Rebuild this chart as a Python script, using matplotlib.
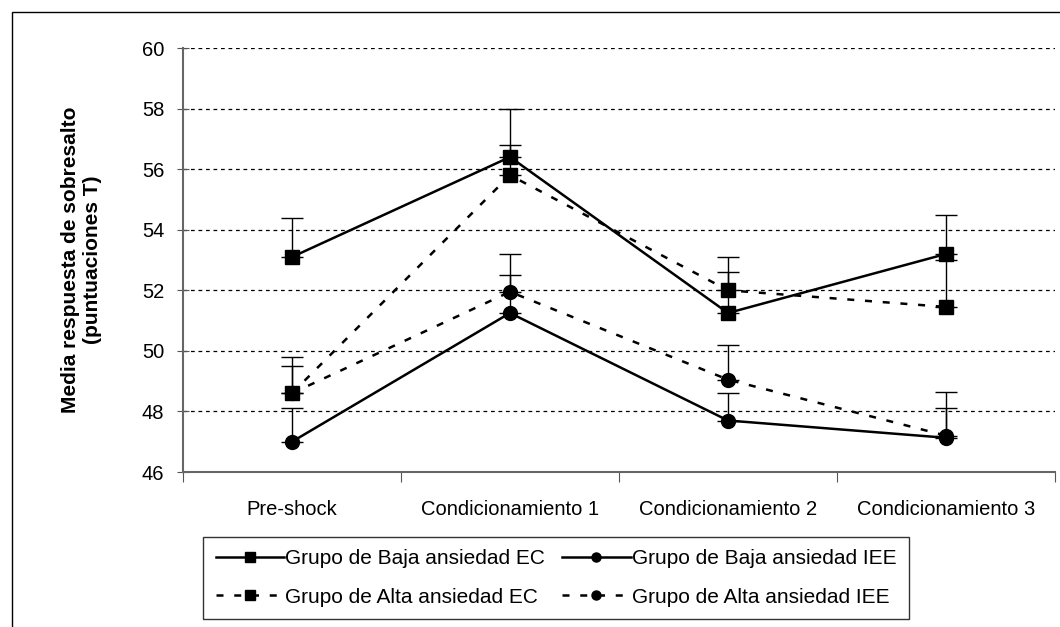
import matplotlib.pyplot as plt
from matplotlib.patches import Rectangle
from matplotlib.lines import Line2D

# ---------------------------------------------------------------
# Data
# ---------------------------------------------------------------
categories = ["Pre-shock", "Condicionamiento 1", "Condicionamiento 2", "Condicionamiento 3"]

baja_ec = [53.1, 56.4, 51.25, 53.2]
baja_ec_top = [54.4, 58.0, 52.6, 54.5]

baja_iee = [47.0, 51.25, 47.7, 47.13]
baja_iee_top = [48.1, 52.5, 48.6, 48.1]

alta_ec = [48.6, 55.8, 52.0, 51.45]
alta_ec_top = [49.8, 56.8, 53.1, 53.0]

alta_iee = [48.6, 51.95, 49.05, 47.2]
alta_iee_top = [49.5, 53.2, 50.2, 48.65]

dashes = (0, (2.8, 4.3))
series = [
    ("Grupo de Baja ansiedad EC", baja_ec, baja_ec_top, "-", "s"),
    ("Grupo de Alta ansiedad EC", alta_ec, alta_ec_top, dashes, "s"),
    ("Grupo de Baja ansiedad IEE", baja_iee, baja_iee_top, "-", "o"),
    ("Grupo de Alta ansiedad IEE", alta_iee, alta_iee_top, dashes, "o"),
]

plt.rcParams['font.family'] = ['Liberation Sans', 'DejaVu Sans']

fig = plt.figure(figsize=(10.6, 6.27), dpi=100)
ax = fig.add_axes([183 / 1060, 1 - 472 / 627, (1055 - 183) / 1060, (472 - 48) / 627])

x = list(range(len(categories)))
handles = []
for label, vals, tops, ls, mk in series:
    up = [t - v for t, v in zip(tops, vals)]
    ax.errorbar(x, vals, yerr=[[0] * len(vals), up], fmt="none", ecolor="black",
                elinewidth=1, capsize=8, capthick=1, zorder=3)
    ax.plot(x, vals, color="black", linestyle=ls, linewidth=1.8, zorder=4)
    ax.plot(x, vals, color="black", linestyle="none", marker=mk,
            markersize=10.5 if mk == "s" else 10, zorder=5)
    handles.append(Line2D([0], [0], color="black", linestyle=ls, linewidth=1.8,
                          marker=mk, markersize=7.5 if mk == "s" else 6.5, label=label))

# axes styling
ax.set_xlim(-0.5, 3.5)
ax.set_ylim(46, 60)
ax.set_yticks(range(46, 61, 2))
ax.yaxis.grid(True, linestyle=(0, (3, 3)), color="black", linewidth=0.9)
ax.set_axisbelow(True)
ax.set_xticks([-0.5, 0.5, 1.5, 2.5, 3.5])
ax.set_xticklabels([])
ax.set_xticks(x, minor=True)
ax.set_xticklabels(categories, minor=True, fontsize=14.5)
ax.tick_params(axis="x", which="minor", length=0, pad=20)
ax.tick_params(axis="x", which="major", length=7, color="#555555")
ax.tick_params(axis="y", direction="inout", length=9, color="#555555",
               labelsize=14.5, pad=9)
for side in ["top", "right"]:
    ax.spines[side].set_visible(False)
for side in ["left", "bottom"]:
    ax.spines[side].set_color("#666666")
    ax.spines[side].set_linewidth(1.5)

ax.set_ylabel("Media respuesta de sobresalto\n(puntuaciones T)", fontsize=15,
              fontweight="bold", linespacing=1.2)
ax.yaxis.set_label_coords(-0.093, 0.5)

# outer chart border
fig.patches.append(Rectangle((12 / 1060, -0.05), 1.1, 1 - 12 / 627 + 0.05,
                             transform=fig.transFigure, fill=False,
                             edgecolor="black", linewidth=1))

# legend
leg = fig.legend(handles=handles, ncol=2, loc="upper left",
                 bbox_to_anchor=(203 / 1060, 1 - 537 / 627),
                 fontsize=15, frameon=True, fancybox=False, edgecolor="black",
                 handlelength=3.3, handletextpad=0.05, columnspacing=0.8,
                 labelspacing=0.92, borderpad=0.6, borderaxespad=0)
leg.get_frame().set_linewidth(1)

fig.savefig("out.png", dpi=100, facecolor="white")
